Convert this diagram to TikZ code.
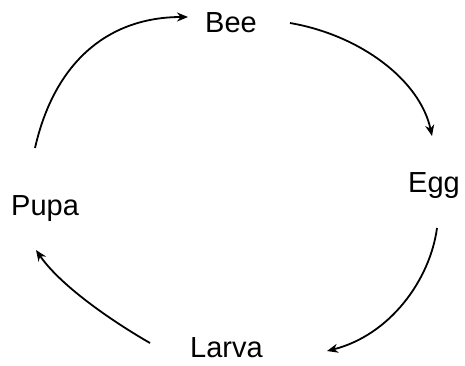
\documentclass[tikz,border=0pt]{standalone}
\usepackage{fontspec}
\setmainfont{Liberation Sans}
\usetikzlibrary{arrows.meta}
\begin{document}
\begin{tikzpicture}[x=1pt,y=-1pt,
  lbl/.style={anchor=base west,inner sep=0pt,font=\fontsize{29}{34}\selectfont},
  cyc/.style={line width=1.8pt,-{Stealth[length=11pt,width=9pt,inset=3.5pt]}}]
\useasboundingbox (0,0) rectangle (465,365);
\node[lbl] (bee) at (205,32) {Bee};
\node[lbl] (egg) at (408,192) {Egg};
\node[lbl] (pupa) at (11,215) {Pupa};
\node[lbl] (larva) at (190,357) {Larva};
\coordinate (pbS) at (35,148);
\coordinate (pbE) at (188,17);
\coordinate (beS) at (290,23);
\coordinate (beE) at (432,136);
\coordinate (elS) at (437,228);
\coordinate (elE) at (327,351);
\coordinate (lpS) at (150,343);
\coordinate (lpE) at (36,250);
\draw[cyc] (pbS) .. controls (55,60) and (110,17) .. (pbE);
\draw[cyc] (beS) .. controls (360,35) and (420,80) .. (beE);
\draw[cyc] (elS) .. controls (430,280) and (390,335) .. (elE);
\draw[cyc] (lpS) .. controls (110,320) and (60,285) .. (lpE);
\end{tikzpicture}
\end{document}
